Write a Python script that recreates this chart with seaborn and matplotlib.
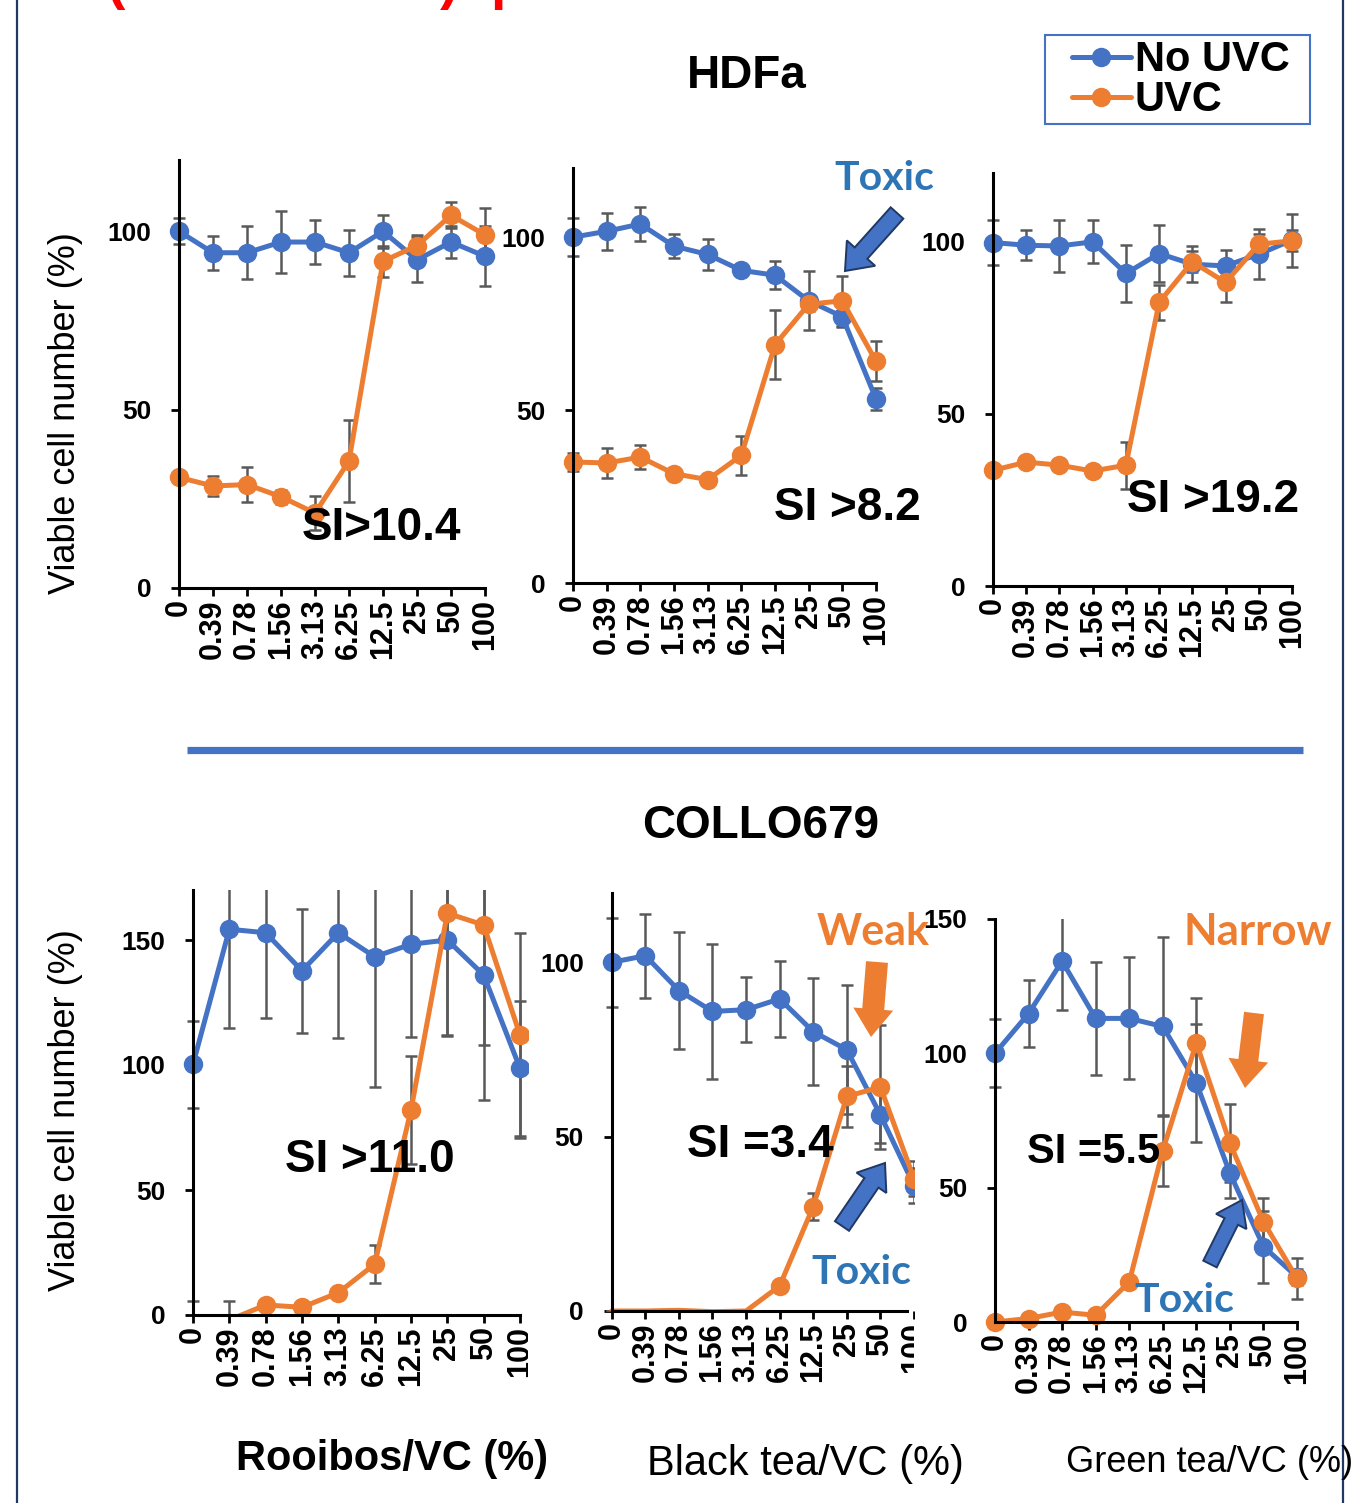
import matplotlib
matplotlib.use("Agg")
import matplotlib.pyplot as plt
import seaborn as sns
import numpy as np
from matplotlib.lines import Line2D
from matplotlib.patches import FancyArrow, Rectangle
from matplotlib.transforms import Bbox, TransformedBbox

# ---------------- data ----------------
conc_labels = ["0", "0.39", "0.78", "1.56", "3.13", "6.25", "12.5", "25", "50", "100"]
series_labels = ["No UVC", "UVC"]

# HDFa - Rooibos
hdfa_rooibos_no_uvc = [100, 94, 94, 97, 97, 94, 100, 92, 97, 93]
hdfa_rooibos_no_uvc_err = [3.6, 4.8, 7.5, 8.7, 6.1, 6.5, 4.6, 6.3, 4.5, 8.4]
hdfa_rooibos_uvc = [31, 28.6, 29, 25.6, 21, 35.6, 91.6, 96, 104.5, 99]
hdfa_rooibos_uvc_err = [1.5, 2.8, 4.9, 2, 4.7, 11.6, 4.4, 3, 3.7, 7.6]

# HDFa - Black tea
hdfa_black_no_uvc = [100, 101.7, 103.8, 97.4, 95, 90.4, 89, 81.6, 77, 53.2]
hdfa_black_no_uvc_err = [5.4, 5.3, 4.8, 3.5, 4.5, 1, 4, 8.5, 3, 3.3]
hdfa_black_uvc = [35, 34.7, 36.4, 31.6, 29.9, 36.9, 68.9, 80.6, 81.6, 64.1]
hdfa_black_uvc_err = [2.5, 4.3, 3.5, 1, 1, 5.6, 10, 2, 7.2, 5.8]

# HDFa - Green tea
hdfa_green_no_uvc = [99.8, 99, 98.8, 100, 90.8, 96.6, 93.5, 93, 96.4, 100.5]
hdfa_green_no_uvc_err = [6.5, 4.3, 7.6, 6.2, 8.2, 8.4, 5.3, 4.5, 7.2, 7.7]
hdfa_green_uvc = [33.6, 36, 35.1, 33.4, 35.1, 82.4, 94.2, 88.2, 99.3, 100.3]
hdfa_green_uvc_err = [1, 1, 1, 1.5, 6.8, 5, 3, 5.8, 3, 3]

# COLLO679 - Rooibos
coll_rooibos_no_uvc = [100.3, 154.3, 152.9, 137.7, 152.9, 143.3, 148.3, 150, 136, 98.7]
coll_rooibos_no_uvc_err = [17.5, 39.6, 34, 24.7, 42, 52, 37, 38, 50, 27]
coll_rooibos_uvc = [-2, -2, 4, 3.1, 8.9, 20.3, 82, 160.7, 156, 112]
coll_rooibos_uvc_err = [7.5, 7.5, 1, 1, 1.5, 7.6, 21.7, 49, 48, 41]

# COLLO679 - Black tea
coll_black_no_uvc = [100.1, 102, 92, 86, 86.5, 89.6, 80.2, 75, 56.3, 36]
coll_black_no_uvc_err = [12.7, 12.1, 16.8, 19.5, 9.3, 10.9, 15.3, 18.5, 8.1, 5]
coll_black_uvc = [0, 0, 0.2, -0.2, 0, 7.2, 30, 61.6, 64.3, 38]
coll_black_uvc_err = [0, 0, 0, 0, 0, 1, 3.8, 8.8, 17.9, 5]

# COLLO679 - Green tea
coll_green_no_uvc = [100, 114.8, 134.3, 113, 113, 110, 89, 55.4, 28.1, 16.8]
coll_green_no_uvc_err = [12.6, 12.4, 18.3, 21, 22.7, 33.3, 22, 9.3, 13.4, 3]
coll_green_uvc = [0, 1.3, 3.7, 2.5, 14.9, 63.8, 103.9, 66.6, 37.3, 16.2]
coll_green_uvc_err = [0.5, 0.5, 0.5, 0.5, 1, 13.2, 16.8, 14.5, 9, 7.7]

si_labels = ["SI>10.4", "SI >8.2", "SI >19.2", "SI >11.0", "SI =3.4", "SI =5.5"]

# ---------------- style ----------------
W, H = 1355, 1503
BLUE = "#4472C4"
ORANGE = "#ED7D31"
GRAY = "#595959"
TXT_BLUE = "#2E75B6"
NAVY = "#203864"

sns.set_style("white")
plt.rcParams["font.family"] = ["Liberation Sans", "DejaVu Sans"]
plt.rcParams["text.color"] = "black"
plt.rcParams["xtick.color"] = "black"
plt.rcParams["ytick.color"] = "black"
plt.rcParams["axes.labelcolor"] = "black"

fig = plt.figure(figsize=(W / 100, H / 100), dpi=100)


def fx(x):
    return x / W


def fy(y):
    return 1 - y / H


def panel(x0, x9, y0, yt, ytop, yticks, blue, blue_err, orange, orange_err,
          xhi=9.33, ylo=-4.5, orange_skip=0, clip_label_x=None):
    s = (x9 - x0) / 9.0
    ppu = (y0 - yt) / float(ytop)
    xlo = -0.33
    left = x0 + xlo * s
    right = x0 + xhi * s
    bottom = y0 - ylo * ppu
    ax = fig.add_axes([fx(left), fy(bottom), (right - left) / W, (bottom - yt) / H])
    ax.set_facecolor("none")
    idx = np.arange(10)
    ax.errorbar(idx, blue, yerr=blue_err, fmt="none", ecolor=GRAY, elinewidth=1.8,
                capsize=4, capthick=1.8, zorder=1.5)
    ax.errorbar(idx, orange, yerr=orange_err, fmt="none", ecolor=GRAY, elinewidth=1.8,
                capsize=4, capthick=1.8, zorder=1.6)
    sns.lineplot(x=idx, y=blue, ax=ax, color=BLUE, marker="o", markersize=14,
                 markeredgewidth=0, linewidth=3.6, zorder=2, legend=False)
    sns.lineplot(x=idx, y=orange, ax=ax, color=ORANGE, marker="o", markersize=14,
                 markeredgewidth=0, linewidth=3.6, zorder=2.1, legend=False,
                 markevery=list(range(orange_skip, 10)))
    ax.set_xlim(xlo, xhi)
    ax.set_ylim(ylo, ytop)
    for side in ["top", "right"]:
        ax.spines[side].set_visible(False)
    for side in ["left", "bottom"]:
        ax.spines[side].set_color("black")
        ax.spines[side].set_linewidth(2.2)
    ax.spines["left"].set_position(("data", 0))
    ax.spines["bottom"].set_position(("data", 0))
    ax.spines["left"].set_bounds(0, ytop)
    ax.spines["bottom"].set_bounds(0, min(9, xhi))
    ax.set_xticks(idx)
    ax.set_xticklabels(conc_labels, rotation=90, fontsize=22, fontweight="bold", color="black")
    ax.set_yticks(yticks)
    ax.set_yticklabels([str(t) for t in yticks], fontsize=19, fontweight="bold", color="black")
    ax.tick_params(axis="both", direction="out", length=6, width=2, color="black",
                   labelcolor="black", bottom=True, left=True)
    ax.tick_params(axis="y", pad=14)
    ax.tick_params(axis="x", pad=2)
    ax.set_xlabel("")
    ax.set_ylabel("")
    ax.grid(False)
    if clip_label_x is not None:
        cb = TransformedBbox(Bbox.from_extents(0, 0, fx(clip_label_x), 1), fig.transFigure)
        for tk in ax.xaxis.get_major_ticks():
            for art in (tk.label1, tk.tick1line):
                art.set_clip_box(cb)
                art.set_clip_on(True)
    return ax


panel(179, 485, 588, 160, 120, [0, 50, 100], hdfa_rooibos_no_uvc, hdfa_rooibos_no_uvc_err,
      hdfa_rooibos_uvc, hdfa_rooibos_uvc_err)
panel(573, 876, 583, 168, 120, [0, 50, 100], hdfa_black_no_uvc, hdfa_black_no_uvc_err,
      hdfa_black_uvc, hdfa_black_uvc_err)
panel(993, 1292, 586, 173, 120, [0, 50, 100], hdfa_green_no_uvc, hdfa_green_no_uvc_err,
      hdfa_green_uvc, hdfa_green_uvc_err)
panel(193, 520, 1315, 890, 170, [0, 50, 100, 150], coll_rooibos_no_uvc, coll_rooibos_no_uvc_err,
      coll_rooibos_uvc, coll_rooibos_uvc_err, xhi=(528 - 193) / ((520 - 193) / 9.0), ylo=0,
      orange_skip=2, clip_label_x=528)
panel(612, 921.6, 1311, 893, 120, [0, 50, 100], coll_black_no_uvc, coll_black_no_uvc_err,
      coll_black_uvc, coll_black_uvc_err, xhi=(914 - 612) / 34.4, ylo=0, orange_skip=5,
      clip_label_x=914)
panel(995, 1297, 1322, 919, 150, [0, 50, 100, 150], coll_green_no_uvc, coll_green_no_uvc_err,
      coll_green_uvc, coll_green_uvc_err)

# ---------------- decorations ----------------
# frame lines
fig.add_artist(Line2D([fx(17), fx(17)], [0, 1], color=NAVY, linewidth=1.6))
fig.add_artist(Line2D([fx(1343), fx(1343)], [0, 1], color=NAVY, linewidth=1.6))
# separator
fig.add_artist(Line2D([fx(187), fx(1303)], [fy(750), fy(750)], color=BLUE, linewidth=5.2,
                      solid_capstyle="butt"))

# partially cut red heading
for xx, ch in [(106, "("), (440, ")"), (490, "p")]:
    fig.text(fx(xx), 1 + 2 / H, ch, color="red", fontsize=40, fontweight="bold",
             ha="left", va="baseline")

# titles
fig.text(fx(747), fy(76), "HDFa", fontsize=33, fontweight="bold", ha="center", va="center")
fig.text(fx(761), fy(826), "COLLO679", fontsize=33, fontweight="bold", ha="center", va="center")

# y labels
for yc in [413, 1110]:
    fig.text(fx(66), fy(yc), "Viable cell number (%)", fontsize=26, rotation=90,
             ha="center", va="center")

# x labels
fig.text(fx(392), fy(1459), "Rooibos/VC (%)", fontsize=30, fontweight="bold", ha="center", va="center")
fig.text(fx(805), fy(1464), "Black tea/VC (%)", fontsize=30, ha="center", va="center")
fig.text(fx(1210), fy(1463), "Green tea/VC (%)", fontsize=26, ha="center", va="center")

# SI annotations
si_pos = [(381, 528, 33), (847, 508, 33), (1213, 500, 33), (370, 1160, 33), (760, 1145, 33), (1094, 1152, 30)]
for (xx, yy, fs), lab in zip(si_pos, si_labels):
    fig.text(fx(xx), fy(yy), lab, fontsize=fs, fontweight="bold", ha="center", va="center")

# colored notes
note_font = ["Lato", "DejaVu Sans"]
for xx, yy, lab, col, fs in [(884, 178, "Toxic", TXT_BLUE, 29.5), (861, 1272, "Toxic", TXT_BLUE, 29.5),
                             (1184, 1300, "Toxic", TXT_BLUE, 29.5), (873, 932, "Weak", ORANGE, 31),
                             (1258, 932, "Narrow", ORANGE, 31.5)]:
    fig.text(fx(xx), fy(yy), lab, fontsize=fs, fontweight="bold", color=col,
             family=note_font, ha="center", va="center")


def arrow(x1, y1, x2, y2, width, head_w, head_len, face, edge):
    a = FancyArrow(x1 / 100, (H - y1) / 100, (x2 - x1) / 100, -(y2 - y1) / 100,
                   width=width / 100, head_width=head_w / 100, head_length=head_len / 100,
                   length_includes_head=True, transform=fig.dpi_scale_trans,
                   facecolor=face, edgecolor=edge, linewidth=1.4 if edge != "none" else 0)
    fig.add_artist(a)


arrow(897, 213, 845, 271, 17, 38, 24, BLUE, NAVY)
arrow(842, 1226, 885, 1163, 17, 36, 24, BLUE, NAVY)
arrow(1210, 1264, 1242, 1200, 15, 34, 24, BLUE, NAVY)
arrow(877, 962, 871, 1037, 22, 40, 28, ORANGE, "none")
arrow(1254, 1013, 1245, 1088, 20, 40, 28, ORANGE, "none")

# legend (frame drawn separately to match the wide box)
fig.add_artist(Rectangle((fx(1045), fy(124)), (1310 - 1045) / W, (124 - 35) / H,
                         transform=fig.transFigure, facecolor="white", edgecolor=BLUE,
                         linewidth=1.5, zorder=0.5))
handles = [Line2D([], [], color=BLUE, marker="o", markersize=14, markeredgewidth=0, linewidth=3.6),
           Line2D([], [], color=ORANGE, marker="o", markersize=14, markeredgewidth=0, linewidth=3.6)]
leg = fig.legend(handles, series_labels, loc="upper left", bbox_to_anchor=(fx(1066), fy(34)),
                 frameon=False, prop={"size": 30, "weight": "bold"}, borderaxespad=0,
                 borderpad=0.15, labelspacing=0.0, handlelength=1.4, handletextpad=0.1)

fig.savefig("out.png", dpi=100)
